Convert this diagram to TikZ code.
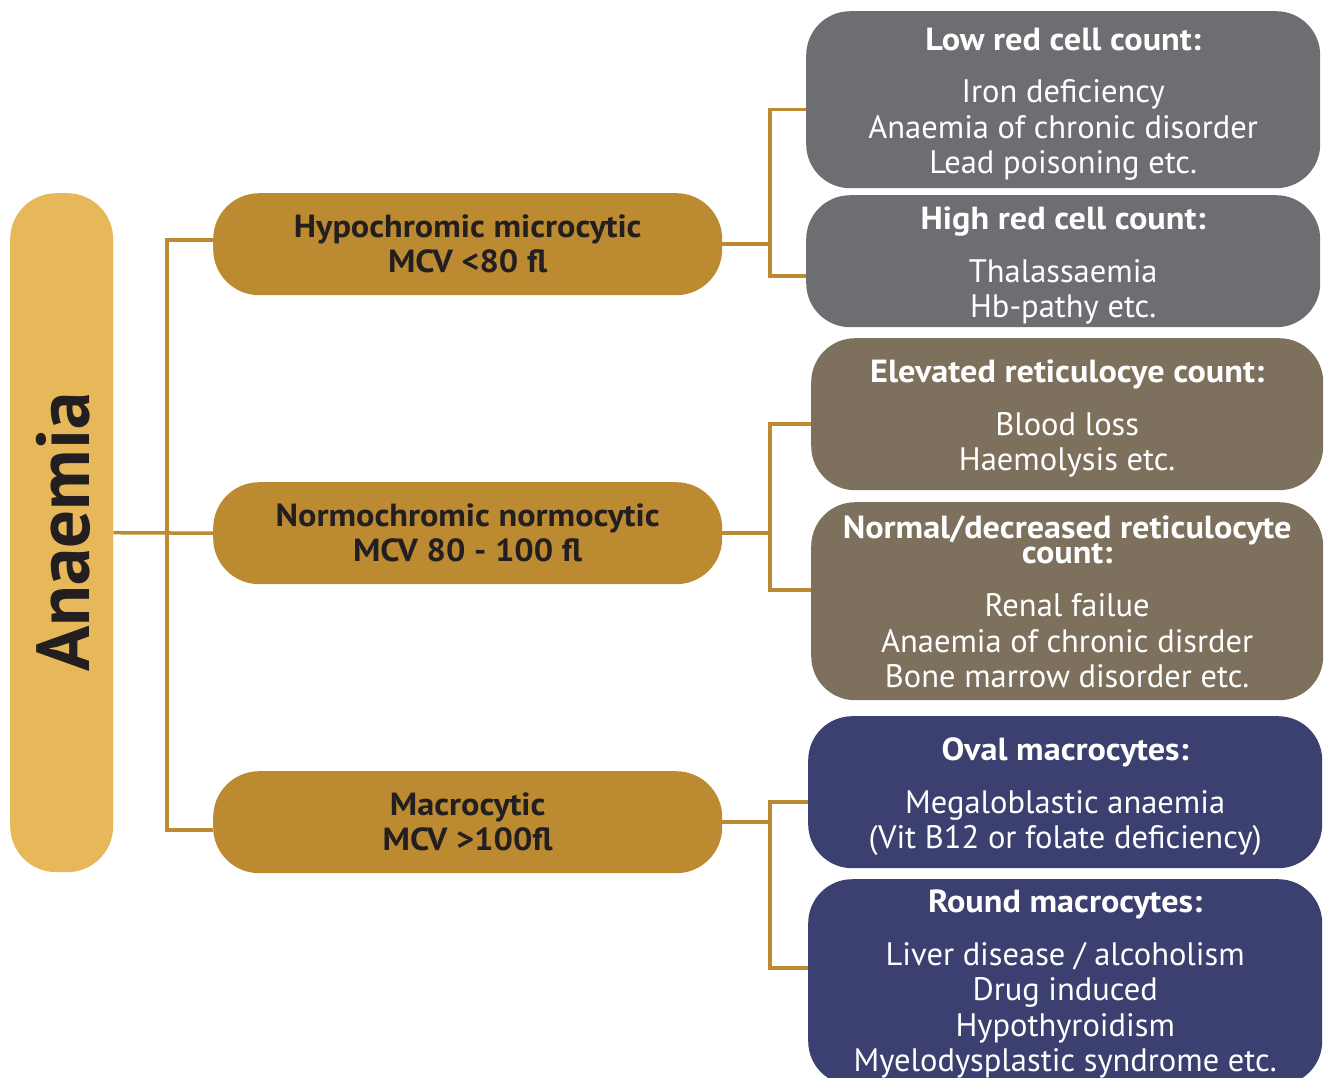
\documentclass[tikz,border=0pt]{standalone}
\usepackage{fontspec}
\setmainfont{PT Sans}
\newfontfamily\condfont{PT Sans}[FakeStretch=1.07]
\definecolor{anagold}{HTML}{E6B85A}
\definecolor{midgold}{HTML}{BC8A30}
\definecolor{boxgray}{HTML}{6D6E71}
\definecolor{boxbrown}{HTML}{7D715E}
\definecolor{boxnavy}{HTML}{3B4070}
\definecolor{darktext}{HTML}{231F20}
\newcommand{\ttlfont}{\condfont\bfseries\fontsize{32}{35}\selectfont}
\begin{document}
\begin{tikzpicture}[x=1pt,y=-1pt,
  conn/.style={draw=midgold, line width=3.5pt},
  anabox/.style={fill=anagold, rounded corners=46pt, minimum width=103pt, minimum height=679pt, inner sep=0pt, anchor=north west},
  midbox/.style={fill=midgold, rounded corners=46pt, minimum width=509pt, minimum height=102pt, inner sep=0pt, anchor=north west, align=center, text=darktext, font=\condfont\bfseries\fontsize{32}{35}\selectfont},
  rbox/.style={rounded corners=44pt, minimum width=514pt, inner sep=0pt, anchor=north west},
  rtext/.style={inner sep=0pt, align=center, text=white, font=\fontsize{32.5}{35.5}\selectfont}]
\clip (0,0) rectangle (1325,1077);
% main box
\node[anabox] (ana) at (10,193) {};
\node[rotate=90, text=darktext, font=\bfseries\fontsize{75}{80}\selectfont] (anatext) at (63,532) {Anaemia};
% middle boxes
\node[midbox] (hypo) at (213,193) {Hypochromic microcytic\\MCV <80 fl};
\node[midbox] (normo) at (213,482) {Normochromic normocytic\\MCV 80 - 100 fl};
\node[midbox] (macro) at (213,771) {Macrocytic\\MCV >100fl};
% right boxes
\node[rbox, fill=boxgray, minimum height=177pt] (g1) at (806,11) {};
\node[rtext] (g1t) at ([yshift=-4.5pt]g1.center)
  {{\ttlfont Low red cell count:}\\[17pt]Iron deficiency\\Anaemia of chronic disorder\\Lead poisoning etc.};
\node[rbox, fill=boxgray, minimum height=132pt] (g2) at (806,195) {};
\node[rtext] (g2t) at ([yshift=-4.5pt]g2.center)
  {{\ttlfont High red cell count:}\\[17pt]Thalassaemia\\Hb-pathy etc.};
\node[rbox, fill=boxbrown, minimum width=512pt, minimum height=152pt] (b1) at (811,338) {};
\node[rtext] (b1t) at ([yshift=-4.5pt]b1.center)
  {{\ttlfont Elevated reticulocye count:}\\[17pt]Blood loss\\Haemolysis etc.};
\node[rbox, fill=boxbrown, minimum width=512pt, minimum height=198pt] (b2) at (811,502) {};
\node[rtext] (b2t) at ([yshift=-1pt]b2.center)
  {{\ttlfont Normal/decreased reticulocyte}\\[-11pt]{\ttlfont count:}\\[18pt]Renal failue\\Anaemia of chronic disrder\\Bone marrow disorder etc.};
\node[rbox, fill=boxnavy, minimum height=152pt] (n1) at (808,716) {};
\node[rtext] (n1t) at ([yshift=-4.5pt]n1.center)
  {{\ttlfont Oval macrocytes:}\\[17pt]Megaloblastic anaemia\\(Vit B12 or folate deficiency)};
\node[rbox, fill=boxnavy, minimum height=206pt] (n2) at (808,879) {};
\node[rtext] (n2t) at ([yshift=-2pt]n2.center)
  {{\ttlfont Round macrocytes:}\\[17pt]Liver disease / alcoholism\\Drug induced\\Hypothyroidism\\Myelodysplastic syndrome etc.};
% connectors
\coordinate (trunk) at (167,0);
\coordinate (fork) at (770,0);
\draw[conn] (ana.east) -- (normo.west);
\draw[conn] ([yshift=4pt]hypo.west) -- ([yshift=4pt]hypo.west -| trunk) -- ([yshift=-8pt]macro.west -| trunk) -- ([yshift=-8pt]macro.west);
\draw[conn] (hypo.east) -- (hypo.east -| fork);
\draw[conn] ([yshift=-10pt]g1.west) -- ([yshift=-10pt]g1.west -| fork) -- ([yshift=-15pt]g2.west -| fork) -- ([yshift=-15pt]g2.west);
\draw[conn] (normo.east) -- (normo.east -| fork);
\draw[conn] ([yshift=-10pt]b1.west) -- ([yshift=-10pt]b1.west -| fork) -- ([yshift=11pt]b2.west -| fork) -- ([yshift=11pt]b2.west);
\draw[conn] (macro.east) -- (macro.east -| fork);
\draw[conn] ([yshift=-10pt]n1.west) -- ([yshift=-10pt]n1.west -| fork) -- ([yshift=14pt]n2.west -| fork) -- ([yshift=14pt]n2.west);
\end{tikzpicture}
\end{document}
